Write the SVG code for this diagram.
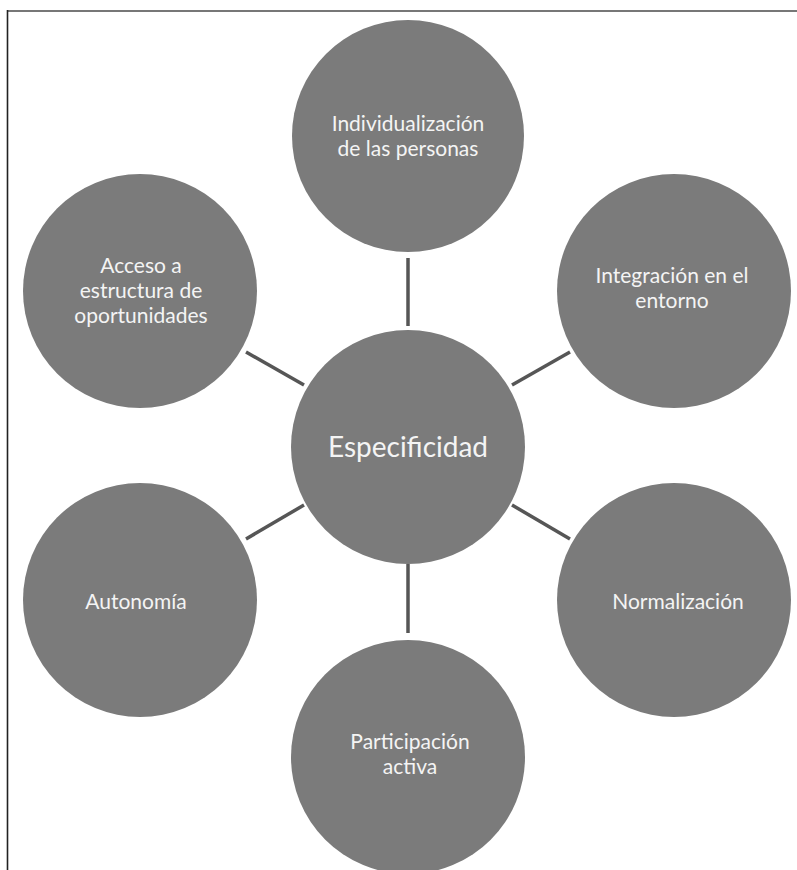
<svg xmlns="http://www.w3.org/2000/svg" width="797" height="870" viewBox="0 0 797 870">
<style>
.node circle{fill:#7b7b7b;}
.node text{fill:#f4f4f4;font-family:Lato,"Open Sans",sans-serif;font-size:21px;text-anchor:middle;}
#connectors line{stroke:#565656;stroke-width:3.5;stroke-linecap:butt;}
</style>
<rect width="797" height="870" fill="#ffffff"/>
<g id="frame">
<line x1="7" y1="11" x2="797" y2="11" stroke="#777" stroke-width="2.2"/>
<line x1="7.5" y1="10" x2="7.5" y2="870" stroke="#222" stroke-width="1.6"/>
</g>
<g id="connectors">
<line x1="408" y1="258" x2="408" y2="326"/>
<line x1="246" y1="352" x2="304" y2="385"/>
<line x1="512" y1="385" x2="570" y2="352"/>
<line x1="246" y1="539" x2="304" y2="505"/>
<line x1="512" y1="505" x2="570" y2="539"/>
<line x1="408" y1="564" x2="408" y2="633"/>
</g>
<g id="center" class="node">
<circle cx="408" cy="447" r="117"/>
<text x="408" y="457" style="font-size:28px">Especificidad</text>
</g>
<g id="n-individualizacion" class="node">
<circle cx="408" cy="136" r="116"/>
<text x="408" y="131">Individualización</text>
<text x="408" y="156">de las personas</text>
</g>
<g id="n-integracion" class="node">
<circle cx="674" cy="291" r="117"/>
<text x="672" y="283">Integración en el</text>
<text x="672" y="308">entorno</text>
</g>
<g id="n-normalizacion" class="node">
<circle cx="674" cy="600" r="117"/>
<text x="678" y="609">Normalización</text>
</g>
<g id="n-participacion" class="node">
<circle cx="408" cy="757" r="117"/>
<text x="410" y="749">Participación</text>
<text x="410" y="774">activa</text>
</g>
<g id="n-autonomia" class="node">
<circle cx="140" cy="600" r="117"/>
<text x="136" y="609">Autonomía</text>
</g>
<g id="n-acceso" class="node">
<circle cx="140" cy="291" r="117"/>
<text x="141" y="273">Acceso a</text>
<text x="141" y="298">estructura de</text>
<text x="141" y="323">oportunidades</text>
</g>
</svg>
